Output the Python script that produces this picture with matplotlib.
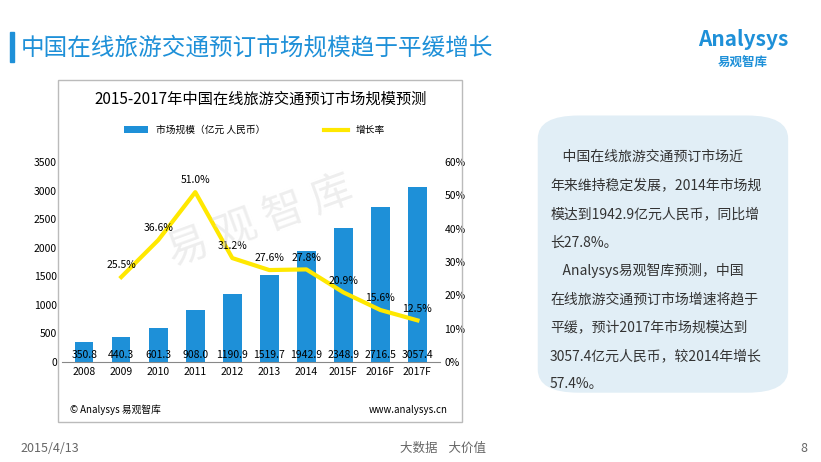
import matplotlib.pyplot as plt
from matplotlib.patches import FancyBboxPatch, Rectangle

plt.rcParams['font.family'] = ['Noto Sans CJK SC', 'DejaVu Sans']

years = ['2008', '2009', '2010', '2011', '2012', '2013', '2014', '2015F', '2016F', '2017F']
market = [350.8, 440.3, 601.3, 908.0, 1190.9, 1519.7, 1942.9, 2348.9, 2716.5, 3057.4]
growth = [None, 25.5, 36.6, 51.0, 31.2, 27.6, 27.8, 20.9, 15.6, 12.5]

blue = '#1E90D8'
yellow = '#FFE800'

fig = plt.figure(figsize=(8.21, 4.62), dpi=100)

# header
fig.patches.append(Rectangle((0.012, 0.865), 0.005, 0.065, transform=fig.transFigure, color=blue))
fig.text(0.025, 0.897, '中国在线旅游交通预订市场规模趋于平缓增长', fontsize=17, color=blue, va='center')
fig.text(0.905, 0.915, 'Analysys', fontsize=15, color=blue, ha='center', va='center', style='italic', weight='bold')
fig.text(0.905, 0.865, '易观智库', fontsize=9, color=blue, ha='center', va='center', weight='bold')

# chart frame
fig.patches.append(Rectangle((0.071, 0.087), 0.492, 0.74, transform=fig.transFigure,
                             fill=False, ec='#BBBBBB', lw=1))
fig.text(0.317, 0.785, '2015-2017年中国在线旅游交通预订市场规模预测', fontsize=11, ha='center', va='center')

ax = fig.add_axes([0.0755, 0.2165, 0.46, 0.4325])
x = range(len(years))
bars = ax.bar(x, market, width=0.5, color=blue, label='市场规模（亿元 人民币）')
for i, v in enumerate(market):
    ax.text(i, 28, f'{v:.1f}', ha='center', va='bottom', fontsize=7.5)
ax.set_ylim(0, 3500)
ax.set_yticks(range(0, 3501, 500))
ax.set_xlim(-0.6, len(years) - 0.4)
ax.set_xticks(list(x))
ax.set_xticklabels(years, fontsize=7.5)
ax.tick_params(axis='y', labelsize=7.5, length=0)
ax.tick_params(axis='x', length=0)
for s in ['top', 'right', 'left']:
    ax.spines[s].set_visible(False)
ax.spines['bottom'].set_color('#888888')

ax2 = ax.twinx()
gx = [i for i, g in enumerate(growth) if g is not None]
gy = [g for g in growth if g is not None]
ln, = ax2.plot(gx, gy, color=yellow, lw=3, label='增长率')
for i, g in zip(gx, gy):
    ax2.text(i, g + 2, f'{g:.1f}%', ha='center', va='bottom', fontsize=7.5)
ax2.set_ylim(0, 60)
ax2.set_yticks(range(0, 61, 10))
ax2.set_yticklabels([f'{t}%' for t in range(0, 61, 10)], fontsize=7.5)
ax2.tick_params(axis='y', length=0)
for s in ['top', 'right', 'left', 'bottom']:
    ax2.spines[s].set_visible(False)

fig.legend([bars, ln], ['市场规模（亿元 人民币）', '增长率'], loc='center', bbox_to_anchor=(0.31, 0.718),
           ncol=2, frameon=False, fontsize=7, columnspacing=6, handlelength=2.5)

fig.text(0.317, 0.52, '易 观 智 库', fontsize=30, color='#DDDDDD', ha='center', va='center', rotation=20, alpha=0.5)

fig.text(0.085, 0.113, '© Analysys 易观智库', fontsize=7, va='center')
fig.text(0.545, 0.113, 'www.analysys.cn', fontsize=7, va='center', ha='right')

# text box
fig.patches.append(FancyBboxPatch((0.655, 0.15), 0.305, 0.6, boxstyle='round,pad=0,rounding_size=0.05',
                                  transform=fig.transFigure, fc='#E1EEF6', ec='none'))
lines = ['    中国在线旅游交通预订市场近', '年来维持稳定发展，2014年市场规', '模达到1942.9亿元人民币，同比增',
         '长27.8%。', '    Analysys易观智库预测，中国', '在线旅游交通预订市场增速将趋于',
         '平缓，预计2017年市场规模达到', '3057.4亿元人民币，较2014年增长', '57.4%。']
for k, t in enumerate(lines):
    fig.text(0.67, 0.66 - k * 0.0615, t, fontsize=10, color='#333333', va='center')

# footer
fig.text(0.025, 0.03, '2015/4/13', fontsize=9, color='#666666', va='center')
fig.text(0.487, 0.03, '大数据    大价值', fontsize=9, color='#666666', va='center')
fig.text(0.975, 0.03, '8', fontsize=9, color='#666666', va='center')

fig.savefig('out.png')
